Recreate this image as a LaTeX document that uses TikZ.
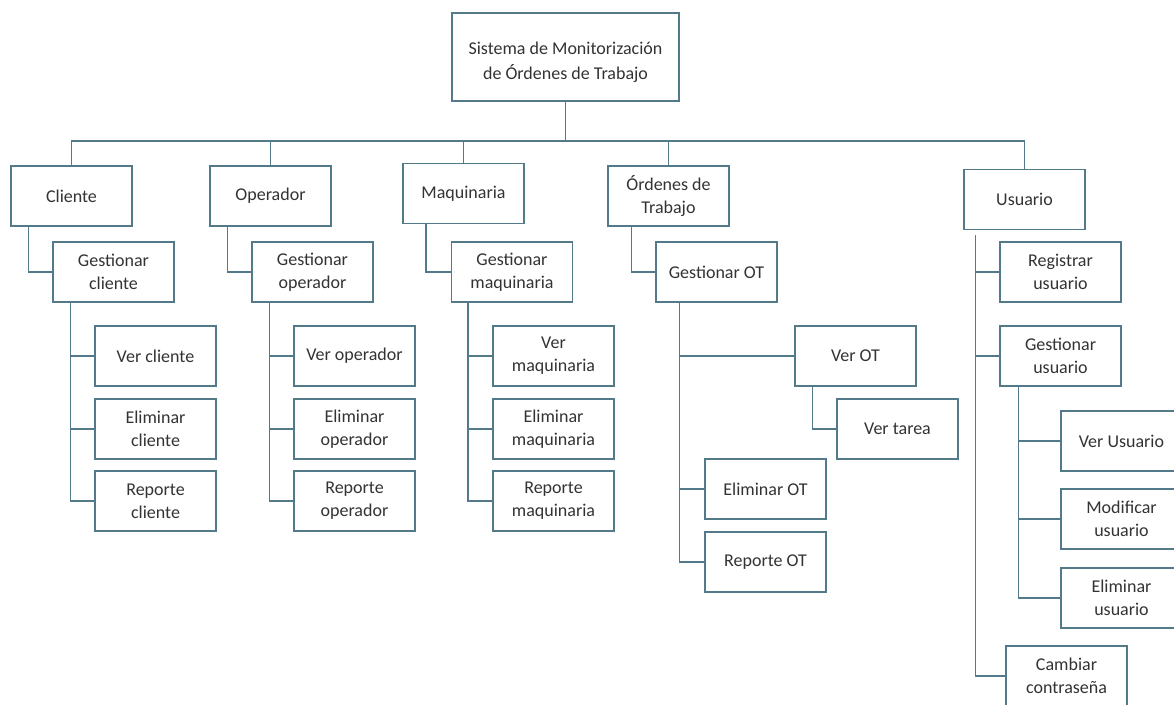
\documentclass[tikz,border=0pt]{standalone}
\usepackage{fontspec}
\setmainfont{Carlito}
\begin{document}
\definecolor{edge}{HTML}{527A88}
\definecolor{ink}{HTML}{333333}
\begin{tikzpicture}[x=1pt,y=-1pt,
  box/.style={draw=edge, line width=1.3pt, fill=white, text=ink,
    minimum width=121pt, minimum height=60pt, inner sep=0pt, align=center,
    font=\fontsize{18}{23}\selectfont},
  link/.style={draw=edge, line width=1.3pt}]
\clip (0,0) rectangle (1174,704);
\fill[white] (0,0) rectangle (1174,704);
\coordinate (bus) at (0,141);

% root (the strut sets the title slightly below the middle)
\node[box, minimum width=227pt, minimum height=88pt] (root) at (565.5,57)
  {\rule{0pt}{24pt}Sistema de Monitorización\\[2pt]de Órdenes de Trabajo};

% first level
\node[box] (cli) at (71.5,196)   {Cliente};
\node[box] (ope) at (270.5,196)  {Operador};
\node[box] (maq) at (463.5,193.5){Maquinaria};
\node[box] (ord) at (668.5,196)  {Órdenes de\\Trabajo};
\node[box] (usu) at (1024.5,199.5){Usuario};

% management nodes
\node[box] (gcli) at (113.5,272) {Gestionar\\cliente};
\node[box] (gope) at (312.5,272) {Gestionar\\operador};
\node[box] (gmaq) at (512,272)   {Gestionar\\maquinaria};
\node[box] (got)  at (716.5,272) {Gestionar OT};

% client actions
\node[box] (vcli) at (155.5,356) {Ver cliente};
\node[box] (ecli) at (155.5,429) {Eliminar\\cliente};
\node[box] (rcli) at (155.5,501) {Reporte\\cliente};

% operator actions
\node[box] (vope) at (354.5,356) {Ver operador};
\node[box] (eope) at (354.5,429) {Eliminar\\operador};
\node[box] (rope) at (354.5,501) {Reporte\\operador};

% machinery actions
\node[box] (vmaq) at (553.5,356) {Ver\\maquinaria};
\node[box] (emaq) at (553.5,429) {Eliminar\\maquinaria};
\node[box] (rmaq) at (553.5,501) {Reporte\\maquinaria};

% work order actions
\node[box] (vot)    at (855.5,356) {Ver OT};
\node[box] (vtarea) at (897.5,429) {Ver tarea};
\node[box] (eot)    at (765.5,489) {Eliminar OT};
\node[box] (rot)    at (765.5,562) {Reporte OT};

% user actions
\node[box] (regu) at (1060.5,272) {Registrar\\usuario};
\node[box] (gusu) at (1060.5,356) {Gestionar\\usuario};
\node[box] (vusu) at (1121.5,441) {Ver Usuario};
\node[box] (musu) at (1121.5,519) {Modificar\\usuario};
\node[box] (eusu) at (1121.5,598) {Eliminar\\usuario};
\node[box] (cusu) at (1066.5,676) {Cambiar\\contraseña};

% top bus
\draw[link] (root.south) -- (root.south |- bus);
\draw[link] (cli.north) -- (cli.north |- bus) -- (usu.north |- bus) -- (usu.north);
\draw[link] (ope.north) -- (ope.north |- bus);
\draw[link] (maq.north) -- (maq.north |- bus);
\draw[link] (ord.north) -- (ord.north |- bus);

% first level to management nodes
\draw[link] ([xshift=-24pt]gcli.west |- cli.south) |- (gcli.west);
\draw[link] ([xshift=-24pt]gope.west |- ope.south) |- (gope.west);
\draw[link] ([xshift=-25pt]gmaq.west |- maq.south) |- (gmaq.west);
\draw[link] ([xshift=-24pt]got.west |- ord.south) |- (got.west);

% client branch
\draw[link] ([xshift=18pt]gcli.south west) |- (vcli.west);
\draw[link] ([xshift=18pt]gcli.south west) |- (ecli.west);
\draw[link] ([xshift=18pt]gcli.south west) |- (rcli.west);

% operator branch
\draw[link] ([xshift=18pt]gope.south west) |- (vope.west);
\draw[link] ([xshift=18pt]gope.south west) |- (eope.west);
\draw[link] ([xshift=18pt]gope.south west) |- (rope.west);

% machinery branch
\draw[link] ([xshift=17pt]gmaq.south west) |- (vmaq.west);
\draw[link] ([xshift=17pt]gmaq.south west) |- (emaq.west);
\draw[link] ([xshift=17pt]gmaq.south west) |- (rmaq.west);

% work order branch
\draw[link] ([xshift=24pt]got.south west) |- (vot.west);
\draw[link] ([xshift=24pt]got.south west) |- (eot.west);
\draw[link] ([xshift=24pt]got.south west) |- (rot.west);
\draw[link] ([xshift=18pt]vot.south west) |- (vtarea.west);

% user branch
\draw[link] ([xshift=12pt,yshift=-5pt]usu.south west) |- (cusu.west);
\draw[link] ([xshift=12pt,yshift=-5pt]usu.south west) |- (regu.west);
\draw[link] ([xshift=12pt,yshift=-5pt]usu.south west) |- (gusu.west);
\draw[link] ([xshift=19pt]gusu.south west) |- (vusu.west);
\draw[link] ([xshift=19pt]gusu.south west) |- (musu.west);
\draw[link] ([xshift=19pt]gusu.south west) |- (eusu.west);
\end{tikzpicture}
\end{document}
